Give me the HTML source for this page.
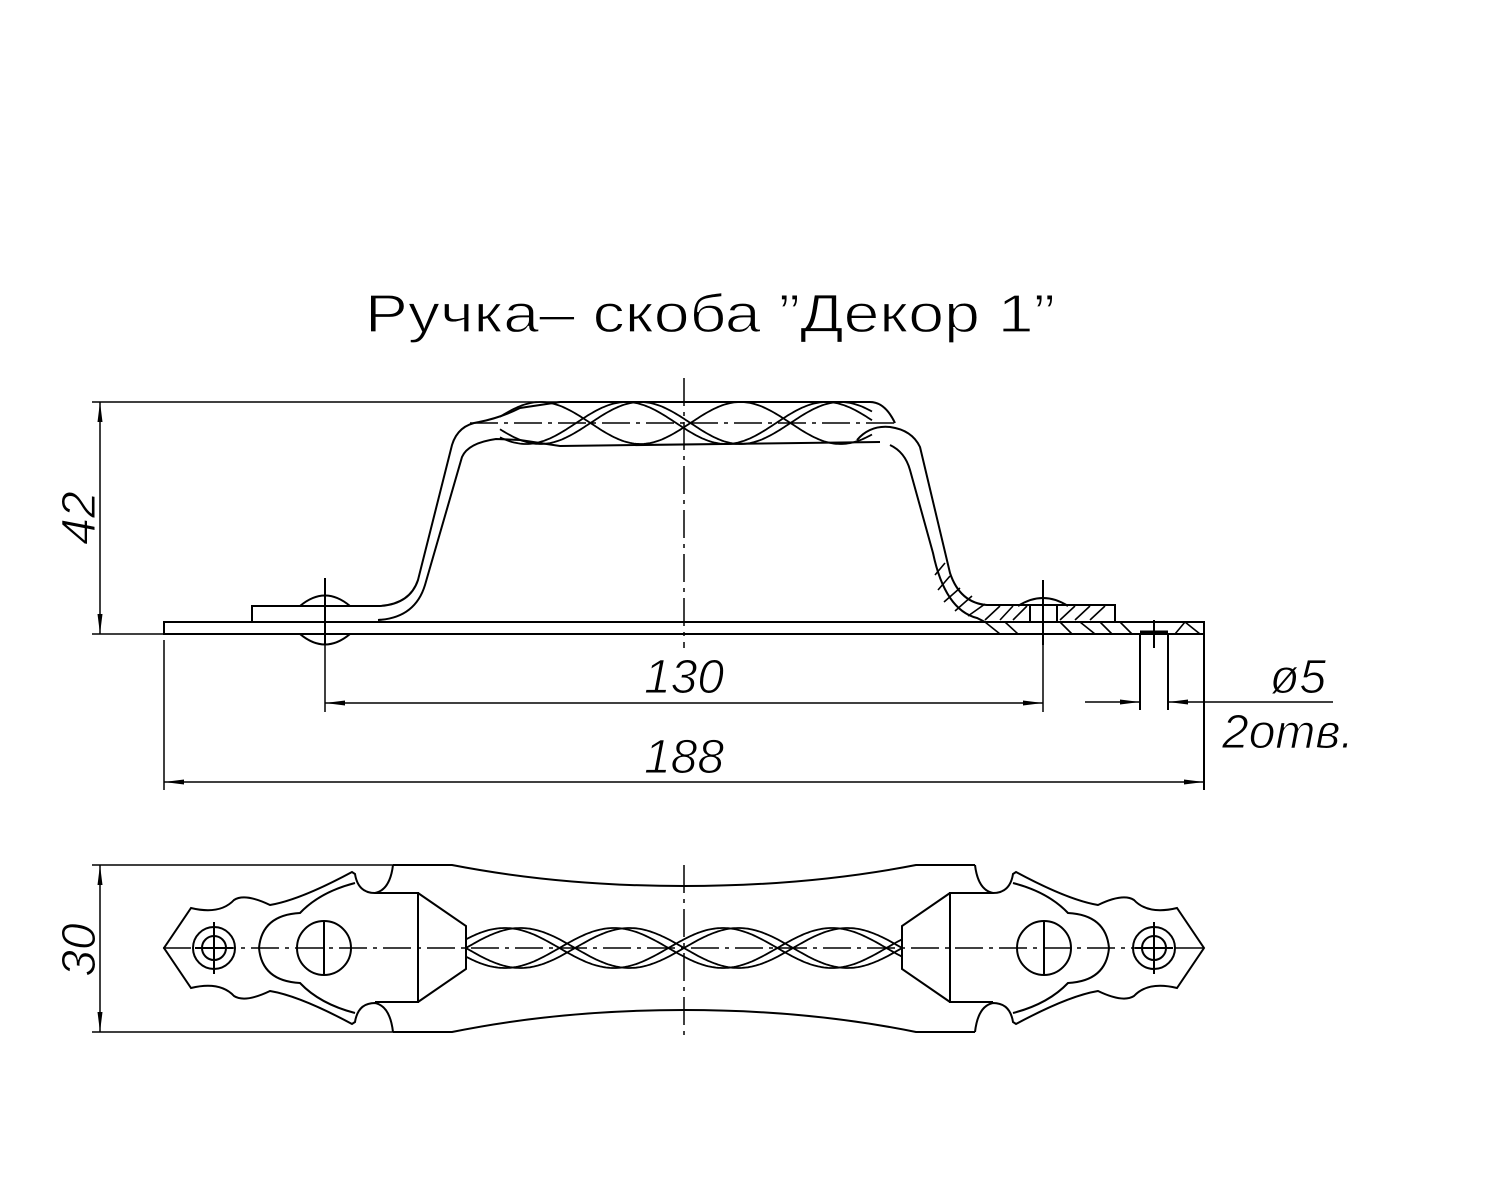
<!DOCTYPE html>
<html><head><meta charset="utf-8"><style>html,body{margin:0;padding:0;background:#fff}svg{display:block}</style></head>
<body>
<svg id="s" width="1500" height="1200" viewBox="0 0 1500 1200" xmlns="http://www.w3.org/2000/svg">
<defs>
<marker id="a" viewBox="0 0 20 6" refX="20" refY="3" markerWidth="20" markerHeight="6" markerUnits="userSpaceOnUse" orient="auto-start-reverse"><path d="M0,0.5 L20,3 L0,5.5 z" fill="#000"/></marker>
</defs>
<text x="365" y="332" font-family="Liberation Sans, sans-serif" font-size="54" textLength="690" lengthAdjust="spacingAndGlyphs" fill="#000" stroke="#fff" stroke-width="1.2">Ручка– скоба ”Декор 1”</text>

<g fill="none" stroke="#000" stroke-width="2">
<rect x="164" y="622" width="1040" height="12"/>
<path d="M252,622 V606 H380"/>
<path d="M300,606 Q325,585 350,606 M300,634 Q325,655 350,634"/>
<path d="M380,606 Q410,604 418,580 L452,445 Q458,425 479,422 Q500,418 520,408 L560,402 L870,402 Q885,402 895,423"/>
<path d="M378,620 Q415,618 425,585 L462,457 Q468,443 496,439 L520,440 L560,446 L880,442"/>
<path d="M857,440 Q870,425 890,427 Q912,430 920,447 L950,573 Q960,603 987,605 H1115 V622"/>
<path d="M890,445 Q905,452 910,470 L933,553 Q945,610 977,618 L985,622"/>
<rect x="1030" y="605" width="27" height="17"/>
<path d="M1018,606 Q1043,590 1068,606"/>
<path d="M1140,634 V710 M1168,634 V710 M1204,634 V790"/>
<g stroke-width="1.6">
<path d="M935,575 L945,563 M938,590 L950,576 M944,602 L960,588 M955,611 L972,596 M968,616 L985,604 M985,620 L1000,606 M1000,620 L1013,606 M1013,620 L1027,606"/>
<path d="M1060,620 L1075,606 M1075,620 L1090,606 M1090,620 L1105,606"/>
<path d="M985,622 L1000,634 M1005,622 L1018,634 M1060,622 L1072,634 M1080,622 L1095,634 M1100,622 L1112,634 M1120,622 L1132,634 M1185,622 L1200,634 M1175,634 L1185,622"/>
<path d="M1140,632 H1168" stroke-width="3"/>
</g>
<path d="M1154,620 V648 M1142,634 H1166"/>
<path d="M325,578 V645 M310,634 H340 M1043,580 V645"/>
</g>
<g id="tw" fill="none" stroke="#000" stroke-width="1.8"></g>
<g fill="none" stroke="#000" stroke-width="1.5" stroke-dasharray="28,6,4,6">
<path d="M684,378 V648 M470,423 H895"/>
<path d="M684,865 V1040 M163,948 H1205"/>
</g>
<g fill="none" stroke="#000" stroke-width="1.5">
<path d="M92,402 H560 M92,634 H164"/>
<path d="M100,402 V634" marker-start="url(#a)" marker-end="url(#a)"/>
<path d="M325,640 V712 M1043,640 V712"/>
<path d="M325,703 H1043" marker-start="url(#a)" marker-end="url(#a)"/>
<path d="M164,640 V790"/>
<path d="M164,782 H1204" marker-start="url(#a)" marker-end="url(#a)"/>
<path d="M1085,702 H1140" marker-end="url(#a)"/>
<path d="M1333,702 H1168" marker-end="url(#a)"/>
<path d="M92,865 H400 M92,1032 H400"/>
<path d="M100,865 V1032" marker-start="url(#a)" marker-end="url(#a)"/>
</g>
<g font-family="Liberation Sans, sans-serif" font-style="italic" font-size="48" fill="#000" stroke="#fff" stroke-width="1">
<text x="684" y="693" text-anchor="middle">130</text>
<text x="684" y="773" text-anchor="middle">188</text>
<text x="1270" y="693">ø5</text>
<text x="1222" y="748">2отв.</text>
<text transform="translate(95,518) rotate(-90)" text-anchor="middle">42</text>
<text transform="translate(95,950) rotate(-90)" text-anchor="middle">30</text>
</g>

<g fill="none" stroke="#000" stroke-width="2">
<path d="M393,865 H452 Q560,886 684,886 Q808,886 916,865 H975"/>
<path d="M393,1032 H452 Q560,1010 684,1010 Q808,1010 916,1032 H975"/>
<g id="endL">
<path d="M393,865 Q390,890 375,893 Q358,893 355,874 L352,872 Q300,900 270,905 Q245,893 234,900 Q220,915 191,908 L164,948 L191,988 Q220,981 234,996 Q245,1003 270,991 Q300,996 352,1024 L355,1022 Q358,1003 375,1003 Q390,1006 393,1032"/>
<path d="M355,883 Q320,892 300,913 Q262,915 259,948 Q262,981 300,983 Q320,1004 355,1013"/>
<path d="M375,893 H418 V1002 H375"/>
<path d="M418,893 L466,926 V969 L418,1002"/>
<circle cx="214" cy="948" r="21"/><circle cx="214" cy="948" r="12"/>
<circle cx="324" cy="948" r="27"/>
<path d="M214,922 V974 M195,948 H233 M324,921 V975"/>
</g>
<use href="#endL" transform="translate(1368,0) scale(-1,1)"/>
</g>
<script>
(function(){
var g=document.getElementById('tw');
function strand(x0,x1,c,A,P,ph){var d='';for(var x=x0;x<=x1;x+=2){var y=c+A*Math.sin(2*Math.PI*(x-x0)/P+ph);d+=(d?'L':'M')+x.toFixed(1)+','+y.toFixed(1);}
var p=document.createElementNS('http://www.w3.org/2000/svg','path');p.setAttribute('d',d);g.appendChild(p);}
// top view
strand(466,902,948,20,218,0);
strand(466,902,948,20,218,0.45);
strand(466,902,948,20,218,Math.PI);
strand(466,902,948,20,218,Math.PI+0.45);
// side view
strand(500,872,423,21,200,0.3);
strand(500,872,423,21,200,0.75);
strand(500,872,423,21,200,Math.PI+0.3);
})();
</script>
</svg>
</body></html>
